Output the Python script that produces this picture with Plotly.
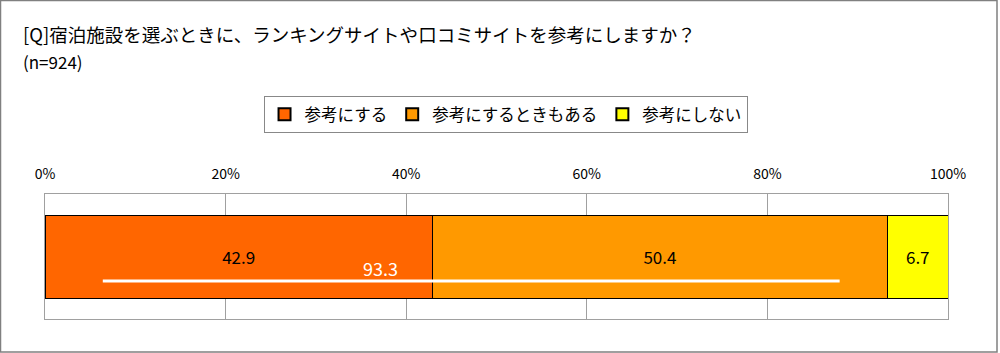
import plotly.graph_objects as go

categories = ["全体"]
series_names = ["参考にする", "参考にするときもある", "参考にしない"]
series_values = [[42.9], [50.4], [6.7]]
series_colors = ["#FF6600", "#FF9900", "#FFFF00"]
tick_vals = [0, 20, 40, 60, 80, 100]
tick_labels = ["0%", "20%", "40%", "60%", "80%", "100%"]
title_text = "[Q]宿泊施設を選ぶときに、ランキングサイトや口コミサイトを参考にしますか？"
subtitle_text = "(n=924)"

FONT = "Noto Sans CJK JP"

fig = go.Figure()
for name, vals, col in zip(series_names, series_values, series_colors):
    fig.add_trace(go.Bar(
        y=categories, x=vals, name=name, orientation="h",
        marker=dict(color=col, line=dict(color="#000000", width=1)),
        text=[f"{v:.1f}" for v in vals], textposition="inside",
        insidetextanchor="middle",
        textfont=dict(size=17, color="#000000", family=FONT),
        width=0.664, hoverinfo="skip",
    ))

# summary line: total of first two series
total = round(series_values[0][0] + series_values[1][0], 1)
fig.add_trace(go.Scatter(
    x=[6.4, 88.0], y=[-0.196, -0.196], mode="lines",
    line=dict(color="#FFFFFF", width=3), showlegend=False, hoverinfo="skip",
    yaxis="y2",
))
fig.add_annotation(
    x=37.2, y=-0.09, xref="x", yref="y2", text=f"{total:.1f}", showarrow=False,
    font=dict(size=18, color="#FFFFFF", family=FONT),
)

fig.update_layout(
    width=1000, height=353,
    margin=dict(l=45, r=52, t=194, b=34),
    paper_bgcolor="#FFFFFF", plot_bgcolor="#FFFFFF",
    barmode="stack",
    font=dict(family=FONT, color="#000000"),
    showlegend=True,
    legend=dict(
        orientation="h", x=0.51, xanchor="center", y=1.784, yanchor="top",
        bordercolor="#888888", borderwidth=1, bgcolor="#FFFFFF",
        font=dict(size=16.5, family=FONT), itemsizing="constant",
        traceorder="normal", itemwidth=30,
    ),
    xaxis=dict(
        range=[0, 100], side="top", tickvals=tick_vals, ticktext=tick_labels,
        showgrid=True, gridcolor="#A0A0A0", gridwidth=1,
        showline=True, linecolor="#A0A0A0", mirror=True, linewidth=1,
        zeroline=False, ticks="", ticklabelstandoff=8,
        tickfont=dict(size=14, family=FONT, color="#000000"),
        fixedrange=True,
    ),
    yaxis=dict(
        range=[-0.5, 0.5], showticklabels=False, showgrid=False, zeroline=False,
        showline=True, linecolor="#A0A0A0", mirror=True, linewidth=1,
        fixedrange=True,
    ),
    yaxis2=dict(
        range=[-0.5, 0.5], overlaying="y", showticklabels=False, showgrid=False,
        zeroline=False, visible=False,
    ),
    shapes=[dict(
        type="rect", xref="paper", yref="paper",
        x0=(0.5 - 45) / 903, x1=(997 - 45) / 903,
        y0=(319 - 352) / 125, y1=(319 - 0.5) / 125,
        line=dict(color="#808080", width=1.5), layer="below",
    )],
)

fig.add_annotation(
    xref="paper", yref="paper", x=(21 - 45) / 903, y=(319 - 34) / 125,
    xanchor="left", yanchor="middle", text=title_text, showarrow=False,
    font=dict(size=18.5, family=FONT, color="#000000"),
)
fig.add_annotation(
    xref="paper", yref="paper", x=(21 - 45) / 903, y=(319 - 61) / 125,
    xanchor="left", yanchor="middle", text=subtitle_text, showarrow=False,
    font=dict(size=17, family=FONT, color="#000000"),
)

fig.write_html("out.html")
